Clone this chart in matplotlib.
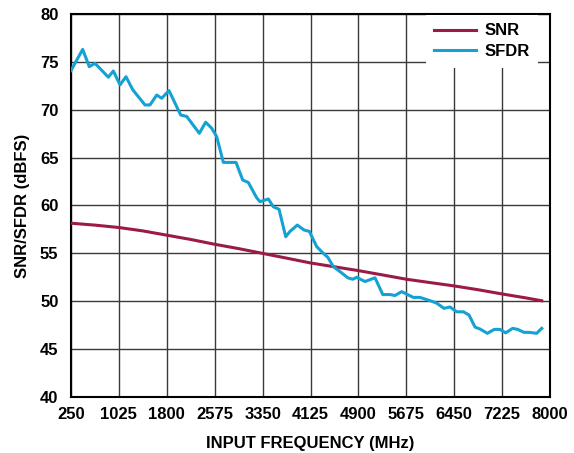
"""SNR / SFDR vs input frequency."""
import matplotlib
matplotlib.use('Agg')
import matplotlib.pyplot as plt

plt.rcParams.update({
    'font.family': ['Liberation Sans', 'DejaVu Sans'],
    'font.weight': 'bold',
    'font.size': 12,
})

# ── data
snr_freq = [250, 640, 1025, 1410, 1800, 2190, 2575, 2960, 3350, 3740, 4125,
            4510, 4900, 5290, 5675, 6060, 6450, 6840, 7225, 7610, 7866]
snr_db = [58.15, 57.95, 57.7, 57.35, 56.9, 56.45, 55.95, 55.5, 55.0, 54.5, 54.0,
          53.6, 53.2, 52.75, 52.3, 51.95, 51.6, 51.2, 50.76, 50.35, 50.05]

sfdr_freq = [250, 439, 546, 638, 854, 935, 1043, 1140, 1248, 1447, 1528, 1637,
             1717, 1836, 2025, 2122, 2326, 2429, 2527, 2607, 2715, 2920, 3028,
             3119, 3255, 3308, 3443, 3523, 3616, 3724, 3794, 3912, 4020, 4106,
             4226, 4333, 4404, 4496, 4602, 4727, 4808, 4873, 5007, 5169, 5294,
             5412, 5492, 5600, 5789, 5897, 6086, 6167, 6285, 6382, 6490, 6598,
             6690, 6787, 6868, 6986, 7099, 7191, 7283, 7396, 7477, 7580, 7665,
             7784, 7866]
sfdr_db = [74.1, 76.3, 74.5, 74.85, 73.4, 74.05, 72.6, 73.45, 72.1, 70.5, 70.5,
           71.54, 71.2, 72.0, 69.45, 69.3, 67.54, 68.7, 68.06, 67.2, 64.5, 64.5,
           62.66, 62.4, 60.8, 60.4, 60.68, 59.87, 59.6, 56.74, 57.3, 57.96,
           57.44, 57.3, 55.7, 55.0, 54.6, 53.6, 53.1, 52.45, 52.3, 52.5, 52.06,
           52.45, 50.7, 50.7, 50.6, 51.0, 50.4, 50.4, 50.0, 49.8, 49.26, 49.4,
           48.9, 48.9, 48.56, 47.3, 47.1, 46.65, 47.06, 47.06, 46.7, 47.17,
           47.06, 46.75, 46.75, 46.65, 47.17]

x_ticks = [250, 1025, 1800, 2575, 3350, 4125, 4900, 5675, 6450, 7225, 8000]
y_ticks = [40, 45, 50, 55, 60, 65, 70, 75, 80]

SNR_COLOR = '#9c1a46'
SFDR_COLOR = '#14a2d4'

fig = plt.figure(figsize=(5.74, 4.53), dpi=100)
ax = fig.add_axes([71 / 574, 56 / 453, 479 / 574, 383 / 453])

ax.plot(snr_freq, snr_db, color=SNR_COLOR, lw=2.2, label='SNR', zorder=3)
ax.plot(sfdr_freq, sfdr_db, color=SFDR_COLOR, lw=2.2, label='SFDR', zorder=3)

ax.set_xlim(250, 8000)
ax.set_ylim(40, 80)
ax.set_xticks(x_ticks)
ax.set_yticks(y_ticks)
ax.tick_params(axis='x', length=0, pad=7, labelsize=12)
ax.tick_params(axis='y', length=0, pad=9, labelsize=12)
for lbl in ax.get_xticklabels() + ax.get_yticklabels():
    lbl.set_fontweight('bold')
ax.grid(True, color='#3a3a3a', lw=1.0)
ax.set_axisbelow(True)
for sp in ax.spines.values():
    sp.set_linewidth(1.5)
    sp.set_color('black')

ax.set_xlabel('INPUT FREQUENCY (MHz)', fontsize=12, fontweight='bold', labelpad=10)
ax.set_ylabel('SNR/SFDR (dBFS)', fontsize=12, fontweight='bold', labelpad=7)

leg = ax.legend(loc='upper right', bbox_to_anchor=(0.975, 0.997),
                frameon=True, fancybox=False, framealpha=1,
                edgecolor='none', facecolor='white', handlelength=2.5,
                handletextpad=0.5, borderaxespad=0, borderpad=0.5,
                labelspacing=0.35, prop={'weight': 'bold', 'size': 12})
leg.set_zorder(5)

fig.savefig('out.png', dpi=100)
